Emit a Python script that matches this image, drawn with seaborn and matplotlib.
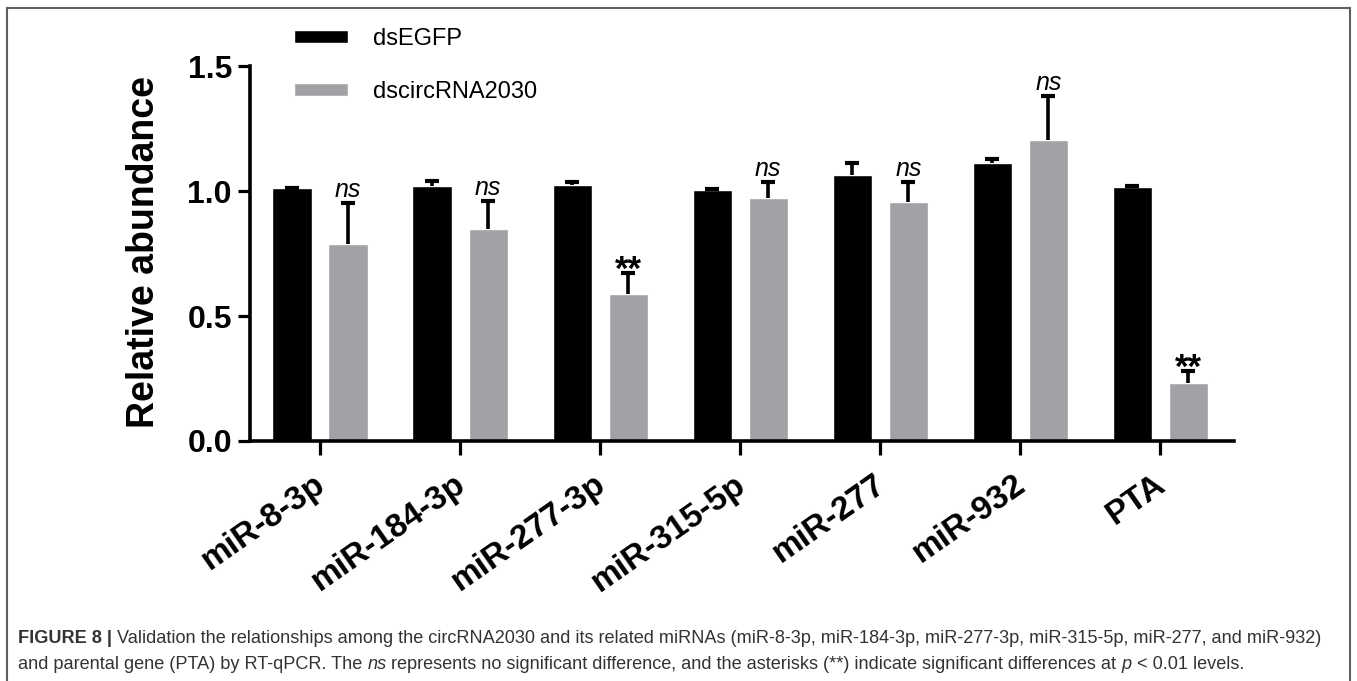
import matplotlib
matplotlib.use("Agg")
import matplotlib.pyplot as plt
import matplotlib.transforms as mtransforms
import pandas as pd
import seaborn as sns
from matplotlib.patches import Rectangle

# ==================================================
# Daten
# ==================================================
CATEGORIES = ["miR-8-3p", "miR-184-3p", "miR-277-3p", "miR-315-5p", "miR-277", "miR-932", "PTA"]
GROUPS = ["dsEGFP", "dscircRNA2030"]
EGFP_MEAN = [1.011, 1.021, 1.024, 1.004, 1.065, 1.111, 1.016]
EGFP_ERR = [0.003, 0.019, 0.013, 0.004, 0.046, 0.016, 0.005]
CIRC_MEAN = [0.787, 0.849, 0.588, 0.973, 0.956, 1.204, 0.231]
CIRC_ERR = [0.166, 0.111, 0.083, 0.064, 0.081, 0.177, 0.049]
SIGNIF = ["ns", "ns", "**", "ns", "ns", "ns", "**"]
Y_TICKS = [0.0, 0.5, 1.0, 1.5]
Y_LABEL = "Relative abundance"

CAPTION_LINE1 = [
    ("FIGURE 8 | ", "bold"),
    ("Validation the relationships among the circRNA2030 and its related miRNAs "
     "(miR-8-3p, miR-184-3p, miR-277-3p, miR-315-5p, miR-277, and miR-932)", "normal"),
]
CAPTION_LINE2 = [
    ("and parental gene (PTA) by RT-qPCR. The ", "normal"),
    ("ns", "italic"),
    (" represents no significant difference, and the asterisks (**) indicate "
     "significant differences at ", "normal"),
    ("p", "italic"),
    (" < 0.01 levels.", "normal"),
]

COLORS = ["#000000", "#a2a2a6"]
W, H = 1357, 681

sns.set_theme(style="ticks")
plt.rcParams["font.family"] = ["Liberation Sans", "DejaVu Sans"]
plt.rcParams["text.color"] = "black"
plt.rcParams["axes.labelcolor"] = "black"
plt.rcParams["xtick.color"] = "black"
plt.rcParams["ytick.color"] = "black"


# ==================================================
# Hilfsfunktion: Text mit gemischten Stilen
# ==================================================
def draw_mixed_line(fig, renderer, x_px, y_px, pieces, size, color):
    x = x_px
    for txt, style in pieces:
        kw = {"fontweight": "bold"} if style == "bold" else {}
        if style == "italic":
            kw["fontstyle"] = "italic"
        t = fig.text(x / W, 1 - y_px / H, txt, fontsize=size, color=color,
                     va="baseline", ha="left", **kw)
        x += t.get_window_extent(renderer).width


# ==================================================
# Plot
# ==================================================
df = pd.DataFrame({
    "Category": CATEGORIES * 2,
    "Group": [GROUPS[0]] * len(CATEGORIES) + [GROUPS[1]] * len(CATEGORIES),
    "Value": EGFP_MEAN + CIRC_MEAN,
})

fig = plt.figure(figsize=(W / 100, H / 100), dpi=100)
ax = fig.add_axes([250 / W, 1 - 441 / H, (1234 - 250) / W, (441 - 66) / H])

sns.barplot(data=df, x="Category", y="Value", hue="Group", palette=COLORS,
            gap=0.3, errorbar=None, saturation=1, ax=ax, zorder=2)

errs = [EGFP_ERR, CIRC_ERR]
means = [EGFP_MEAN, CIRC_MEAN]
bar_containers = list(ax.containers)
for k, cont in enumerate(bar_containers):
    xs = [b.get_x() + b.get_width() / 2 for b in cont]
    eb = ax.errorbar(xs, means[k], yerr=[[0] * len(xs), errs[k]], fmt="none",
                     ecolor="black", elinewidth=2.6, capsize=5, capthick=3, zorder=3)
    eb[1][0].set_visible(False)  # keine Kappe am Balkenende
    if k == 1:
        for i, s in enumerate(SIGNIF):
            top = means[k][i] + errs[k][i]
            if s == "ns":
                ax.annotate(s, (xs[i], top), xytext=(0, 4.5), textcoords="offset points",
                            ha="center", va="baseline", fontsize=18, fontstyle="italic",
                            annotation_clip=False)
            else:
                ax.annotate(s, (xs[i], top), xytext=(0, -5), textcoords="offset points",
                            ha="center", va="baseline", fontsize=25, fontweight="bold",
                            annotation_clip=False)

ax.set_xlim(-0.5, 6.525)
ax.set_ylim(0, 1.5)
ax.set_yticks(Y_TICKS)
ax.set_yticklabels([f"{v:.1f}" for v in Y_TICKS], fontsize=23, fontweight="bold")
ax.set_xticks(range(len(CATEGORIES)))
ax.set_xticklabels([])
ax.tick_params(axis="x", length=10, width=2.3, pad=6, color="black")
ax.tick_params(axis="y", length=9, width=2.3, pad=4, color="black")

# x-Beschriftungen etwas nach links versetzt (wie im Original)
shift = mtransforms.offset_copy(ax.get_xaxis_transform(), fig=fig, x=-5, y=-20, units="points")
for i, name in enumerate(CATEGORIES):
    ax.text(i, 0, name, transform=shift, rotation=35, rotation_mode="anchor",
            ha="right", va="top", fontsize=24, fontweight="bold")

for side in ["left", "bottom"]:
    ax.spines[side].set_linewidth(2.6)
    ax.spines[side].set_color("black")
sns.despine(ax=ax)

ax.set_xlabel("")
ax.set_ylabel(Y_LABEL, fontsize=27, fontweight="bold")
ax.yaxis.set_label_coords((162 - 250) / (1234 - 250), 0.504)

sns.move_legend(ax, "upper left", bbox_to_anchor=(294 / W, 1 - 28 / H),
                bbox_transform=fig.transFigure, frameon=False, title=None,
                fontsize=17, handlelength=2.3, handleheight=0.5,
                handletextpad=1.05, labelspacing=1.3, borderpad=0, borderaxespad=0)

# Rahmen um die ganze Abbildung
fig.patches.append(Rectangle((7 / W, -0.01), (1350 - 7) / W, 1.01 - 8 / H,
                             transform=fig.transFigure, fill=False,
                             edgecolor="#606060", linewidth=1.5))

renderer = fig.canvas.get_renderer()
draw_mixed_line(fig, renderer, 18, 643, CAPTION_LINE1, 13.1, "#333333")
draw_mixed_line(fig, renderer, 18, 669, CAPTION_LINE2, 13.1, "#333333")

fig.savefig("out.png", dpi=100)
